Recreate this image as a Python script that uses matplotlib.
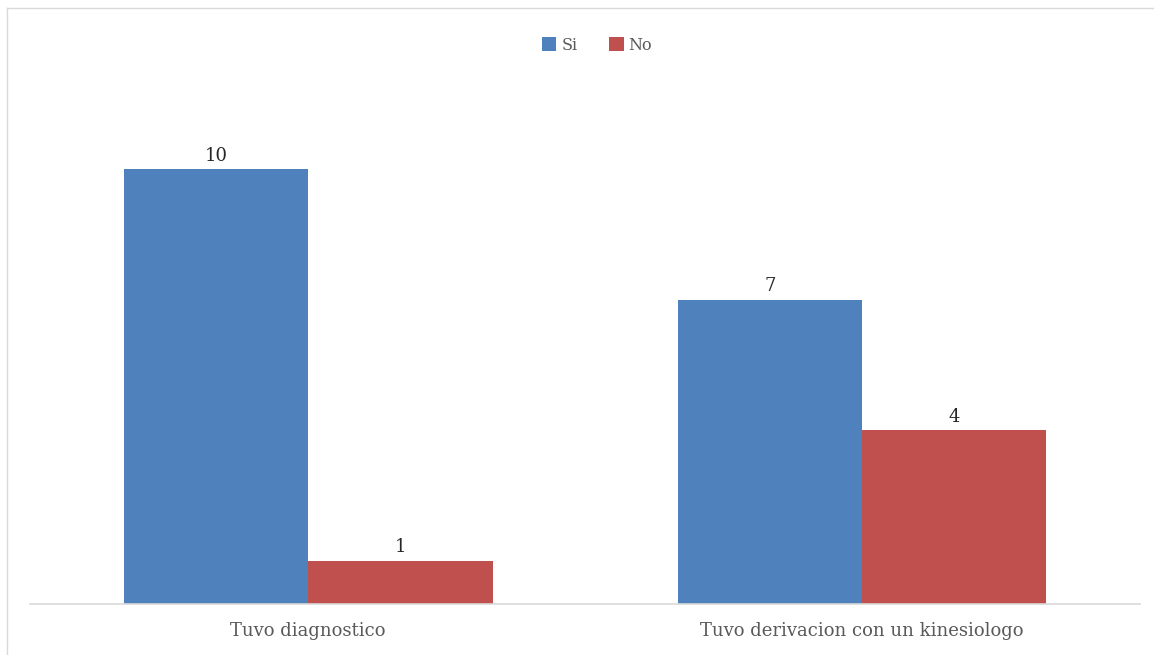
import numpy as np
import matplotlib.pyplot as plt
from matplotlib.lines import Line2D

categories = ["Tuvo diagnostico", "Tuvo derivacion con un kinesiologo"]
si_values = [10, 7]
no_values = [1, 4]

blue = "#4F81BD"
red = "#C0504D"

plt.rcParams["font.family"] = ["DejaVu Serif"]

fig = plt.figure(figsize=(11.54, 6.55), dpi=100)
ax = fig.add_axes([30 / 1154, 51 / 655, 1110 / 1154, 522 / 655])

x = np.arange(len(categories))
w = 0.333
b1 = ax.bar(x - w / 2, si_values, w, color=blue, label="Si")
b2 = ax.bar(x + w / 2, no_values, w, color=red, label="No")

for bars in (b1, b2):
    for rect in bars:
        ax.annotate(f"{int(rect.get_height())}",
                    (rect.get_x() + rect.get_width() / 2, rect.get_height()),
                    xytext=(0, 3), textcoords="offset points",
                    ha="center", va="bottom", fontsize=13, color="#262626")

ax.set_xlim(-0.502, 1.502)
ax.set_ylim(0, 12)
ax.set_xticks(x)
ax.set_xticklabels(categories, fontsize=13, color="#595959")
ax.tick_params(axis="x", length=0, pad=13)
ax.set_yticks([])
for s in ("top", "left", "right"):
    ax.spines[s].set_visible(False)
ax.spines["bottom"].set_color("#D9D9D9")
ax.spines["bottom"].set_linewidth(1.2)

fig.legend(loc="center", bbox_to_anchor=(597 / 1154, 1 - 45 / 655), ncol=2,
           frameon=False, fontsize=11.5, handlelength=0.9, handleheight=0.9,
           handletextpad=0.3, columnspacing=2.0, labelcolor="#595959")

# chart border (only top and left visible in the crop)
fig.add_artist(Line2D([7 / 1154, 1], [1 - 8 / 655, 1 - 8 / 655],
                      transform=fig.transFigure, color="#D9D9D9", lw=1))
fig.add_artist(Line2D([7 / 1154, 7 / 1154], [0, 1 - 8 / 655],
                      transform=fig.transFigure, color="#D9D9D9", lw=1))

fig.savefig("out.png", dpi=100)
